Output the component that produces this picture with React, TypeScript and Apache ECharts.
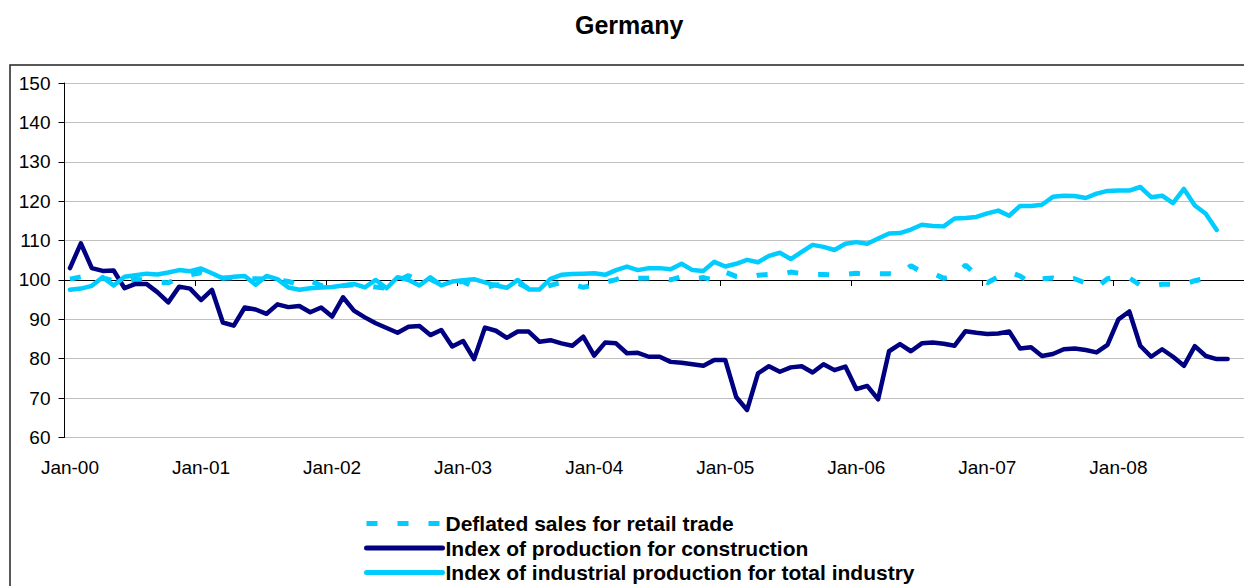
import React, { useEffect, useRef } from "react";
import * as echarts from "echarts";

const monthNames = ["Jan", "Feb", "Mar", "Apr", "May", "Jun", "Jul", "Aug", "Sep", "Oct", "Nov", "Dec"];
const years = ["00", "01", "02", "03", "04", "05", "06", "07", "08"];
const categories: string[] = years.flatMap((y) => monthNames.map((m) => `${m}-${y}`));

const yTicks = { min: 60, max: 150, interval: 10 };

const retailTrade = [
  100.2, 100.8, 100.3, 100.5, 99.8, 99.6, 100.1, 100.0, 99.4, 99.3,
  100.5, 101.3, 101.8, 100.8, 100.5, 100.6, 100.4, 100.3, 100.2, 100.0,
  99.6, 98.8, 99.8, 98.6, 97.9, 98.5, 98.8, 98.6, 98.2, 97.9,
  99.8, 101.1, 99.5, 100.2, 98.8, 99.3, 99.6, 98.2, 98.0, 98.8,
  98.5, 99.2, 97.8, 97.7, 98.6, 99.4, 98.9, 98.1, 98.8, 99.4,
  100.1, 101.0, 100.4, 100.5, 100.8, 100.0, 100.8, 100.2, 100.6, 99.9,
  102.0, 100.9, 100.6, 101.2, 101.4, 101.3, 102.0, 101.6, 101.4, 101.4,
  101.2, 101.4, 101.7, 101.4, 101.6, 101.6, 101.4, 103.6, 102.0, 101.7,
  100.4, 101.0, 103.8, 101.2, 99.3, 100.8, 102.0, 101.0, 99.2, 100.3,
  100.5, 99.8, 100.3, 99.2, 98.1, 100.3, 100.7, 100.5, 98.7, 98.5,
  98.9, 98.9, 98.9, 99.8, 100.4, 99.6,
];

const construction = [
  103, 109.3, 103, 102.3, 102.4, 97.9, 99, 99, 96.9, 94.3,
  98.3, 97.8, 94.9, 97.5, 89.2, 88.4, 93, 92.5, 91.4, 93.8,
  93.1, 93.4, 91.8, 93, 90.7, 95.6, 92.2, 90.5, 89, 87.8,
  86.6, 88.1, 88.3, 86, 87.3, 83.1, 84.5, 79.9, 87.9, 87.1,
  85.3, 86.9, 86.9, 84.3, 84.7, 83.9, 83.3, 85.6, 80.8, 84.1,
  83.9, 81.4, 81.5, 80.5, 80.5, 79.2, 79, 78.6, 78.2, 79.7,
  79.7, 70.3, 67, 76.3, 78.1, 76.7, 77.8, 78.1, 76.5, 78.6,
  77.1, 78, 72.3, 73.1, 69.7, 81.9, 83.7, 81.9, 83.9, 84.1,
  83.8, 83.3, 87, 86.6, 86.3, 86.4, 86.9, 82.6, 82.9, 80.7,
  81.2, 82.4, 82.6, 82.2, 81.6, 83.5, 90, 92, 83.3, 80.5,
  82.4, 80.5, 78.2, 83.2, 80.7, 79.9, 79.9,
];

const industry = [
  97.5, 97.8, 98.5, 100.7, 98.6, 100.8, 101.2, 101.6, 101.4, 101.9,
  102.5, 102.2, 102.9, 101.7, 100.4, 100.8, 101, 98.8, 101, 100.2,
  98.1, 97.5, 97.9, 98.1, 98.2, 98.6, 99, 98.1, 100, 97.9,
  100.7, 100, 98.6, 100.7, 98.6, 99.6, 99.9, 100.2, 99.4, 98.6,
  98, 100, 97.6, 97.6, 100.3, 101.3, 101.5, 101.6, 101.7, 101.3,
  102.5, 103.4, 102.5, 103, 103, 102.7, 104.1, 102.5, 102.3, 104.6,
  103.4, 104.1, 105.1, 104.5, 106.1, 106.9, 105.3, 107.1, 108.9, 108.4,
  107.6, 109.2, 109.6, 109.2, 110.5, 111.8, 111.9, 112.8, 114, 113.7,
  113.6, 115.6, 115.7, 116, 116.9, 117.6, 116.3, 118.8, 118.8, 119.1,
  121.1, 121.4, 121.3, 120.8, 121.9, 122.6, 122.7, 122.7, 123.6, 121,
  121.4, 119.5, 123.1, 118.9, 116.8, 112.7,
];

const seriesNames = [
  "Deflated sales for retail trade",
  "Index of production for construction",
  "Index of industrial production for total industry",
];

const FONT = "'Liberation Sans', Arial, sans-serif";

export default function App() {
  const ref = useRef<HTMLDivElement>(null);
  useEffect(() => {
    if (!ref.current) return;
    const chart = echarts.init(ref.current, undefined, { renderer: "svg" });
    chart.setOption({
      animation: false,
      backgroundColor: "#ffffff",
      textStyle: { fontFamily: FONT },
      title: {
        text: "Germany",
        left: 570,
        top: 7,
        textStyle: { fontFamily: FONT, fontSize: 25, fontWeight: "bold", color: "#000" },
      },
      graphic: [
        {
          type: "rect",
          shape: { x: 10, y: 65, width: 1260, height: 560 },
          style: { fill: "none", stroke: "#222", lineWidth: 1.5 },
          silent: true,
        },
      ],
      legend: {
        orient: "vertical",
        left: 364,
        top: 513,
        height: 100,
        itemWidth: 76,
        itemHeight: 21,
        itemGap: 3.5,
        padding: 0,
        itemStyle: { opacity: 0 },
        lineStyle: { width: 5 },
        textStyle: {
          fontFamily: FONT,
          fontSize: 21,
          lineHeight: 21,
          fontWeight: "bold",
          color: "#000",
          padding: [0, 0, 0, -2],
        },
        data: seriesNames,
      },
      grid: { left: 64.5, top: 83, width: 1181.5, height: 354.5, containLabel: false },
      xAxis: [
        {
          type: "category",
          data: categories,
          boundaryGap: true,
          axisLine: { show: false },
          axisTick: { show: false },
          splitLine: { show: false },
          axisLabel: { interval: 11, margin: 20, fontSize: 19, color: "#000", fontFamily: FONT },
        },
        {
          type: "category",
          data: categories,
          boundaryGap: true,
          position: "bottom",
          offset: -157.5,
          axisLine: { show: true, lineStyle: { color: "#000", width: 1 } },
          axisTick: { show: true, interval: 11, length: 6, lineStyle: { color: "#000", width: 1 } },
          axisLabel: { show: false },
          splitLine: { show: false },
        },
      ],
      yAxis: {
        type: "value",
        min: yTicks.min,
        max: yTicks.max,
        interval: yTicks.interval,
        axisLine: { show: true, lineStyle: { color: "#000", width: 1 } },
        axisTick: { show: true, length: 6, lineStyle: { color: "#000" } },
        axisLabel: { margin: 14, fontSize: 19, color: "#000", fontFamily: FONT },
        splitLine: { show: true, lineStyle: { color: "#c0c0c0", width: 1 } },
      },
      series: [
        {
          name: seriesNames[0],
          type: "line",
          data: retailTrade,
          symbol: "none",
          color: "#00ccff",
          lineStyle: { color: "#00ccff", width: 5, type: [11, 20], cap: "butt" },
        },
        {
          name: seriesNames[1],
          type: "line",
          data: construction,
          symbol: "none",
          color: "#000080",
          lineStyle: { color: "#000080", width: 4.5, cap: "round", join: "round" },
        },
        {
          name: seriesNames[2],
          type: "line",
          data: industry,
          symbol: "none",
          color: "#00ccff",
          lineStyle: { color: "#00ccff", width: 4.5, cap: "round", join: "round" },
        },
      ],
    });
    return () => chart.dispose();
  }, []);
  return (
    <div
      ref={ref}
      style={{ position: "absolute", left: 0, top: 0, width: 1244, height: 586, background: "#fff" }}
    />
  );
}
